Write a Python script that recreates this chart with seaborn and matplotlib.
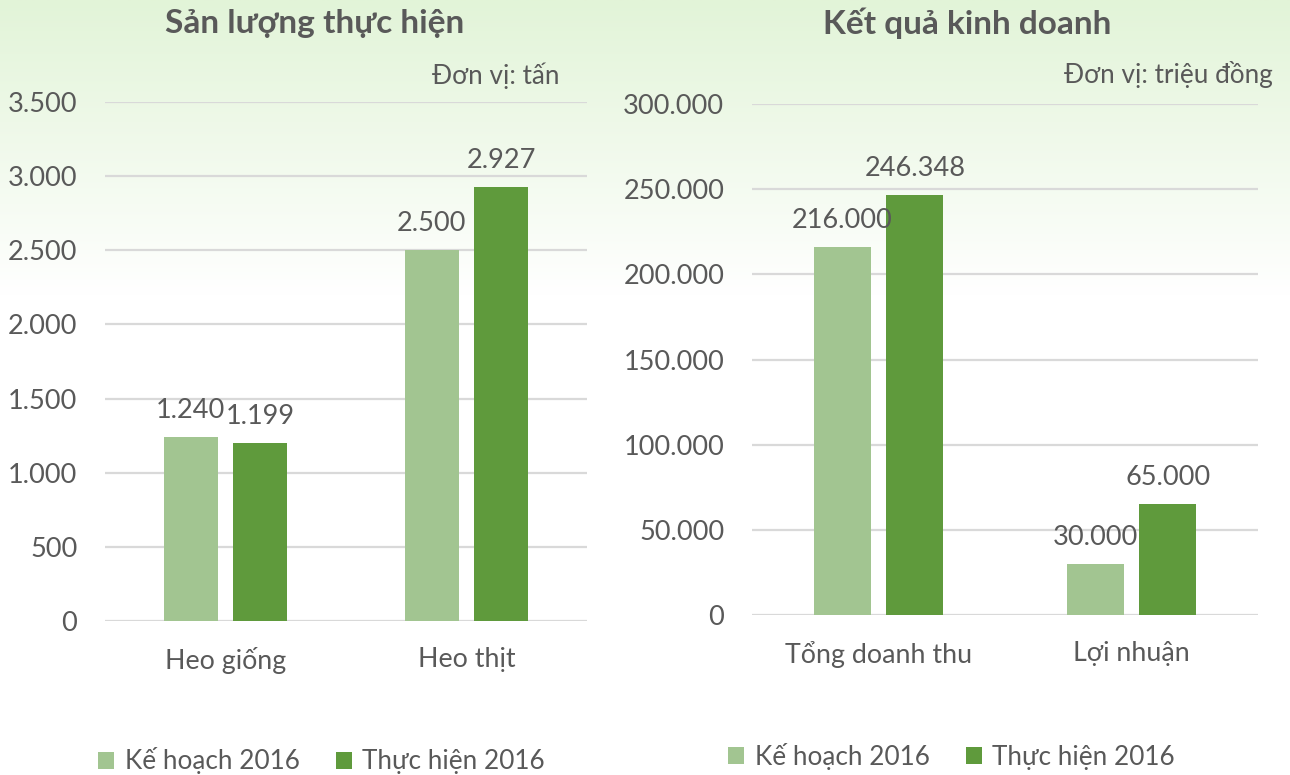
import numpy as np
import pandas as pd
import matplotlib
matplotlib.use("Agg")
import matplotlib.pyplot as plt
import seaborn as sns

# ---- data ----
series = ["Kế hoạch 2016", "Thực hiện 2016"]
left_categories = ["Heo giống", "Heo thịt"]
left_plan = [1240, 2500]
left_actual = [1199, 2927]
right_categories = ["Tổng doanh thu", "Lợi nhuận"]
right_plan = [216000, 30000]
right_actual = [246348, 65000]
left_title = "Sản lượng thực hiện"
right_title = "Kết quả kinh doanh"
left_unit = "Đơn vị: tấn"
right_unit = "Đơn vị: triệu đồng"
left_ticks = [0, 500, 1000, 1500, 2000, 2500, 3000, 3500]
right_ticks = [0, 50000, 100000, 150000, 200000, 250000, 300000]

colors = ["#a2c591", "#5f9a3c"]
text_color = "#595959"
grid_color = "#d9d9d9"

sns.set_theme(style="white")
plt.rcParams["font.family"] = ["Lato", "DejaVu Sans"]

W, H = 1290, 775
fig = plt.figure(figsize=(W / 100, H / 100), dpi=100)

# background gradient
bg = fig.add_axes([0, 0, 1, 1], zorder=-10)
n = 400
t = np.linspace(0, 1, n)
top = np.array([226, 244, 216]) / 255.0
white = np.array([1.0, 1.0, 1.0])
frac = np.clip(t / 0.38, 0, 1)[:, None]
grad = top * (1 - frac) + white * frac
img = np.repeat(grad[:, None, :], 2, axis=1)
bg.imshow(img, aspect="auto", extent=[0, 1, 0, 1], origin="upper")
bg.set_axis_off()


def fmt(v):
    return f"{v:,.0f}".replace(",", ".")


def make_panel(rect, cats, plan, actual, ticks, title, unit, title_xy, unit_xy, legend_anchor):
    ax = fig.add_axes(rect)
    ax.set_facecolor("none")
    df = pd.DataFrame({
        "cat": cats * 2,
        "series": [series[0]] * len(cats) + [series[1]] * len(cats),
        "value": list(plan) + list(actual),
    })
    sns.barplot(data=df, x="cat", y="value", hue="series", palette=colors,
                width=0.574, gap=0.215, ax=ax, saturation=1, legend=True)
    ax.set_xlim(-0.5, len(cats) - 0.5)
    ax.set_ylim(ticks[0], ticks[-1])
    ax.set_yticks(ticks)
    ax.set_yticklabels([fmt(v) for v in ticks])
    ax.yaxis.grid(True, color=grid_color, linewidth=1.6)
    ax.set_axisbelow(True)
    for s in ax.spines.values():
        s.set_visible(False)
    ax.set_xlabel("")
    ax.set_ylabel("")
    ax.tick_params(axis="y", length=0, pad=20, labelsize=19.5, labelcolor=text_color)
    ax.tick_params(axis="x", length=0, pad=19, labelsize=19.3, labelcolor=text_color)
    for c in ax.containers:
        ax.bar_label(c, labels=[fmt(v) for v in c.datavalues], padding=10,
                     fontsize=19.5, color=text_color)
    for p in ax.patches:
        p.set_edgecolor("none")
    fig.text(title_xy[0], title_xy[1], title, ha="center", va="center",
             fontsize=24, fontweight="bold", color=text_color)
    fig.text(unit_xy[0], unit_xy[1], unit, ha="right", va="center",
             fontsize=18.8, color=text_color)
    ax.legend(loc="center", bbox_to_anchor=legend_anchor,
              bbox_transform=fig.transFigure, ncol=2, frameon=False,
              fontsize=18.8, labelcolor=text_color, handlelength=0.62,
              handleheight=0.62, handletextpad=0.4, columnspacing=1.38)
    return ax


make_panel([105 / W, 1 - 621 / H, (585 - 103) / W, (621 - 102) / H],
           left_categories, left_plan, left_actual, left_ticks,
           left_title, left_unit, (315 / W, 1 - 23 / H), (560 / W, 1 - 76 / H),
           (321.5 / W, 1 - 761 / H))
make_panel([752 / W, 1 - 615 / H, (1258 - 752) / W, (615 - 104) / H],
           right_categories, right_plan, right_actual, right_ticks,
           right_title, right_unit, (967 / W, 1 - 23 / H), (1273 / W, 1 - 75 / H),
           (951.5 / W, 1 - 756 / H))

fig.savefig("out.png", dpi=100)
